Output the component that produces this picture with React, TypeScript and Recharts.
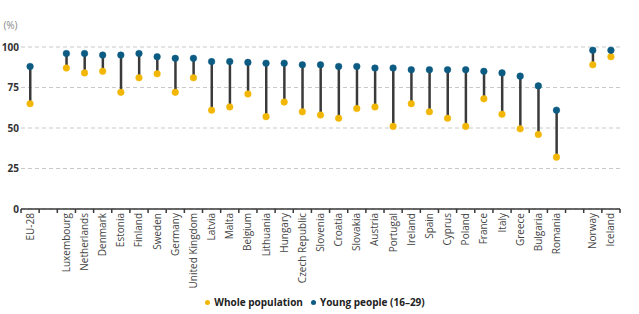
import React from 'react';
import { ComposedChart, Bar, Line, XAxis, YAxis, CartesianGrid, Legend } from 'recharts';

const countries = [
  'EU-28', '', 'Luxembourg', 'Netherlands', 'Denmark', 'Estonia', 'Finland', 'Sweden', 'Germany',
  'United Kingdom', 'Latvia', 'Malta', 'Belgium', 'Lithuania', 'Hungary', 'Czech Republic', 'Slovenia',
  'Croatia', 'Slovakia', 'Austria', 'Portugal', 'Ireland', 'Spain', 'Cyprus', 'Poland', 'France',
  'Italy', 'Greece', 'Bulgaria', 'Romania', ' ', 'Norway', 'Iceland',
];

const wholePopulation = [
  65, null, 87, 84, 85, 72, 81, 83.5, 72, 81, 61, 63, 71, 57, 66, 60, 58,
  56, 62, 63, 51, 65, 60, 56, 51, 68, 58.5, 49.5, 46, 32, null, 89, 94,
];

const youngPeople = [
  88, null, 96, 96, 95, 95, 96, 94, 93, 93, 91, 91, 90.5, 90, 90, 89, 89,
  88, 88, 87, 87, 86, 86, 86, 86, 85, 84, 82, 76, 61, null, 98, 98,
];

const yTicks = [0, 25, 50, 75, 100];

const WHOLE = '#f2b705';
const YOUNG = '#0c5b82';
const STEM = '#3a3a3a';

const data = countries.map((name, i) => ({
  name,
  whole: wholePopulation[i],
  young: youngPeople[i],
  range: wholePopulation[i] == null ? undefined : [wholePopulation[i], youngPeople[i]],
}));

const CHART_W = 639;
const LEFT = 21;
const RIGHT = 19;
const step = (CHART_W - LEFT - RIGHT) / countries.length;

function CountryTick(props: any) {
  const { x, y, payload, index } = props;
  const isLast = index === countries.length - 1;
  return (
    <g>
      <line x1={x - step / 2} x2={x - step / 2} y1={y} y2={y + 4} stroke={STEM} strokeWidth={1.5} />
      {isLast && <line x1={x + step / 2} x2={x + step / 2} y1={y} y2={y + 4} stroke={STEM} strokeWidth={1.5} />}
      <text
        x={x}
        y={y + 4}
        dy="0.35em"
        textAnchor="end"
        transform={`rotate(-90, ${x}, ${y + 4})`}
        fontSize={10}
        fill="#444"
        fontFamily="'Open Sans', sans-serif"
      >
        {payload.value.trim()}
      </text>
    </g>
  );
}

function LegendContent() {
  const item = (color: string, label: string) => (
    <span style={{ display: 'inline-flex', alignItems: 'center', marginRight: 8 }}>
      <span style={{ width: 5, height: 5, borderRadius: '50%', background: color, marginRight: 4 }} />
      <span>{label}</span>
    </span>
  );
  return (
    <div
      style={{
        height: 16,
        display: 'flex',
        justifyContent: 'center',
        alignItems: 'center',
        fontFamily: "'Open Sans', sans-serif",
        fontWeight: 700,
        fontSize: 10,
        color: '#222',
        paddingLeft: 18,
      }}
    >
      {item(WHOLE, 'Whole population')}
      {item(YOUNG, 'Young people (16–29)')}
    </div>
  );
}

export default function App() {
  return (
    <div style={{ position: 'absolute', left: 0, top: 0, width: CHART_W, height: 314, background: '#fff' }}>
      <ComposedChart
        width={CHART_W}
        height={314}
        data={data}
        margin={{ top: 47, right: RIGHT, left: 0, bottom: 4 }}
        barCategoryGap={0}
      >
        <CartesianGrid vertical={false} stroke="#c9c9c9" strokeDasharray="4 3" />
        <XAxis
          dataKey="name"
          interval={0}
          height={85}
          tickLine={false}
          tickSize={0}
          tickMargin={0}
          axisLine={{ stroke: STEM, strokeWidth: 1.5 }}
          tick={<CountryTick />}
        />
        <YAxis
          width={LEFT}
          domain={[0, 100]}
          ticks={yTicks}
          axisLine={false}
          tickLine={false}
          tickSize={0}
          tickMargin={2}
          tick={{ fontSize: 10, fontWeight: 700, fill: '#333', fontFamily: "'Open Sans', sans-serif" }}
          label={{ value: '(%)', position: 'top', offset: 18, fontSize: 10, fill: '#888', fontFamily: "'Open Sans', sans-serif" }}
        />
        <Bar dataKey="range" barSize={2.5} fill={STEM} isAnimationActive={false} />
        <Line
          dataKey="whole"
          stroke="none"
          dot={{ r: 3.3, fill: WHOLE, stroke: WHOLE, strokeWidth: 0.5 }}
          activeDot={false}
          connectNulls={false}
          isAnimationActive={false}
        />
        <Line
          dataKey="young"
          stroke="none"
          dot={{ r: 3.3, fill: YOUNG, stroke: YOUNG, strokeWidth: 0.5 }}
          activeDot={false}
          connectNulls={false}
          isAnimationActive={false}
        />
        <Legend verticalAlign="bottom" content={<LegendContent />} />
      </ComposedChart>
    </div>
  );
}
